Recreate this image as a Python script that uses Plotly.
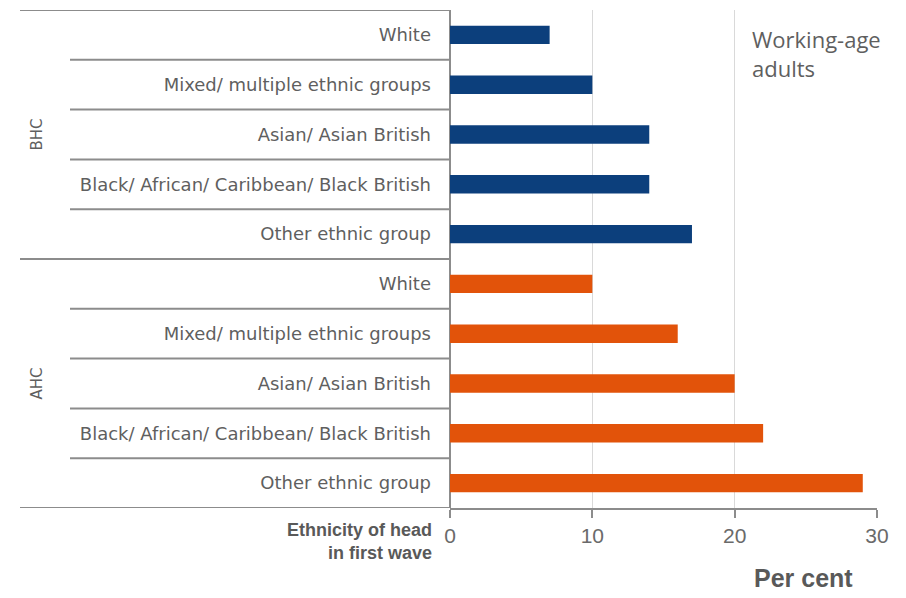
import plotly.graph_objects as go

groups = ["BHC", "AHC"]
categories = ["White", "Mixed/ multiple ethnic groups", "Asian/ Asian British",
              "Black/ African/ Caribbean/ Black British", "Other ethnic group"]
bhc_values = [7, 10, 14, 14, 17]
ahc_values = [10, 16, 20, 22, 29]
x_ticks = [0, 10, 20, 30]
group_colors = {"BHC": "#0C3F7C", "AHC": "#E2530A"}

n = len(categories)
pos_bhc = list(range(n))
pos_ahc = list(range(n, 2 * n))
all_pos = pos_bhc + pos_ahc
all_labels = categories + categories

PW = 427.0  # plot width px
PH = 498.0  # plot height px

fig = go.Figure()
fig.add_trace(go.Bar(y=pos_bhc, x=bhc_values, orientation="h", width=0.37,
                     marker=dict(color=group_colors["BHC"], line=dict(width=0)), name="BHC"))
fig.add_trace(go.Bar(y=pos_ahc, x=ahc_values, orientation="h", width=0.37,
                     marker=dict(color=group_colors["AHC"], line=dict(width=0)), name="AHC"))

line_col = "#8C8C8C"
shapes = []
for k in range(2 * n + 1):
    yk = k - 0.5
    full = k % n == 0
    x0 = -430 / PW if full else -380 / PW
    shapes.append(dict(type="line", xref="paper", yref="y", x0=x0, x1=0, y0=yk, y1=yk,
                       line=dict(color=line_col, width=2)))
fig.update_layout(shapes=shapes)

fig.update_yaxes(range=[2 * n - 0.5, -0.5], tickvals=all_pos, ticktext=all_labels,
                 showgrid=False, zeroline=False, showline=False, ticks="",
                 ticklabelstandoff=18,
                 tickfont=dict(family="DejaVu Sans", size=18, color="#5f5f5f"))
fig.update_xaxes(range=[0, 30], tickvals=x_ticks, showgrid=True, gridcolor="#D9D9D9",
                 gridwidth=1, zeroline=True, zerolinecolor=line_col, zerolinewidth=2,
                 showline=True, linecolor=line_col, linewidth=2,
                 ticks="outside", ticklen=8, tickcolor=line_col, tickwidth=2,
                 tickfont=dict(family="Liberation Sans", size=21, color="#6a6a6a"))

ann = []
for gi, g in enumerate(groups):
    ann.append(dict(text=g, xref="paper", yref="y", x=-425 / PW, y=gi * n + (n - 1) / 2,
                    textangle=-90, showarrow=False,
                    font=dict(family="DejaVu Sans", size=15, color="#5f5f5f")))
ann.append(dict(text="<b>Ethnicity of head<br>in first wave</b>", xref="paper", yref="paper",
                x=-16 / PW, y=-10 / PH, xanchor="right", yanchor="top", align="right",
                showarrow=False, font=dict(family="Liberation Sans", size=18, color="#595959")))
ann.append(dict(text="<b>Per cent</b>", xref="paper", yref="paper",
                x=(803 - 450) / PW, y=-54 / PH, xanchor="center", yanchor="top",
                showarrow=False, font=dict(family="Liberation Sans", size=25, color="#595959")))
ann.append(dict(text="Working-age<br>adults", xref="paper", yref="paper",
                x=(750 - 450) / PW, y=1 - 12 / PH, xanchor="left", yanchor="top", align="left",
                showarrow=False, font=dict(family="Open Sans", size=22, color="#5f5f5f")))
fig.update_layout(annotations=ann)

fig.update_layout(width=898, height=590, margin=dict(l=442, r=29, t=2, b=90),
                  paper_bgcolor="white", plot_bgcolor="white", showlegend=False,
                  bargap=0.6)
fig.write_html("out.html")
